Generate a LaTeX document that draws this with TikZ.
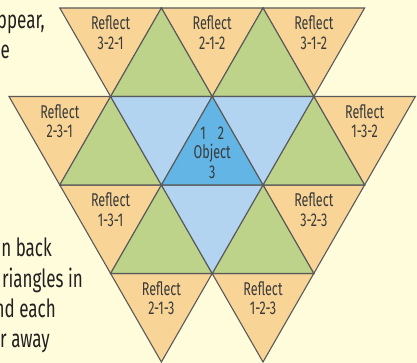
\documentclass[tikz,border=0pt]{standalone}
\usepackage{fontspec}
\setmainfont[FakeStretch=0.68]{Fira Sans}
\definecolor{paper}{HTML}{FFFCDC}
\definecolor{reflcol}{HTML}{F8D597}
\definecolor{mirrcol}{HTML}{BED38A}
\definecolor{nearcol}{HTML}{B2D4F0}
\definecolor{objcol}{HTML}{62B5E5}
\definecolor{edgecol}{HTML}{5A5A5A}
\definecolor{lblcol}{HTML}{3A3A3A}
\definecolor{sidecol}{HTML}{231F20}
\begin{document}
\begin{tikzpicture}[x=1pt,y=1pt,line join=miter,
		tri/.style={draw=edgecol,line width=1.1pt},
		refl/.style={tri,fill=reflcol},
		mirr/.style={tri,fill=mirrcol},
		near/.style={tri,fill=nearcol},
		obj/.style={tri,fill=objcol},
		lbl/.style={align=center,text=lblcol,inner sep=0pt,font=\fontsize{18.5}{19.5}\selectfont},
		side/.style={anchor=base east,text=sidecol,inner sep=0pt,font=\fontsize{25}{30}\selectfont}]
	\fill[paper] (0,0) rectangle (417,363);
	\useasboundingbox (0,0) rectangle (417,363);
	% lattice points
	\foreach \r in {0,...,4}
	\foreach \c in {0,...,8}
	\coordinate (v\c-\r) at ({9+50.8*\c},{355-88.5*\r});
	% text cut off at the left
	\node[side] (s1) at (45,334) {ppear,};
	\node[side] (s2) at (10,304) {e};
	\node[side] (s3) at (52,106) {n back};
	\node[side] (s4) at (83,75) {riangles in};
	\node[side] (s5) at (56,45) {nd each};
	\node[side] (s6) at (50,15) {r away};
	% triangles
	\foreach \a/\b/\d in {1-0/3-0/2-1,3-0/5-0/4-1,5-0/7-0/6-1,0-1/2-1/1-2,6-1/8-1/7-2,
			1-2/3-2/2-3,5-2/7-2/6-3,2-3/4-3/3-4,4-3/6-3/5-4}
	\filldraw[refl] (v\a) -- (v\b) -- (v\d) -- cycle;
	\foreach \a/\b/\d in {2-1/4-1/3-0,4-1/6-1/5-0,1-2/3-2/2-1,5-2/7-2/6-1,2-3/4-3/3-2,4-3/6-3/5-2}
	\filldraw[mirr] (v\a) -- (v\b) -- (v\d) -- cycle;
	\foreach \a/\b/\d in {2-1/4-1/3-2,4-1/6-1/5-2,3-2/5-2/4-3}
	\filldraw[near] (v\a) -- (v\b) -- (v\d) -- cycle;
	\filldraw[obj] (v3-2) -- (v5-2) -- (v4-1) -- cycle;
	% labels
	\node[lbl] (r321) at ([yshift=64pt]v2-1) {Reflect\\3-2-1};
	\node[lbl] (r212) at ([yshift=64pt]v4-1) {Reflect\\2-1-2};
	\node[lbl] (r312) at ([yshift=64pt]v6-1) {Reflect\\3-1-2};
	\node[lbl] (r231) at ([yshift=64pt]v1-2) {Reflect\\2-3-1};
	\node[lbl] (r132) at ([yshift=64pt]v7-2) {Reflect\\1-3-2};
	\node[lbl] (r131) at ([yshift=64pt]v2-3) {Reflect\\1-3-1};
	\node[lbl] (r323) at ([yshift=64pt]v6-3) {Reflect\\3-2-3};
	\node[lbl] (r213) at ([yshift=64pt]v3-4) {Reflect\\2-1-3};
	\node[lbl] (r123) at ([yshift=64pt]v5-4) {Reflect\\1-2-3};
	\node[lbl] (object) at ([yshift=-56pt]v4-1) {1\hspace{12pt}2\\Object\\3};
\end{tikzpicture}
\end{document}
